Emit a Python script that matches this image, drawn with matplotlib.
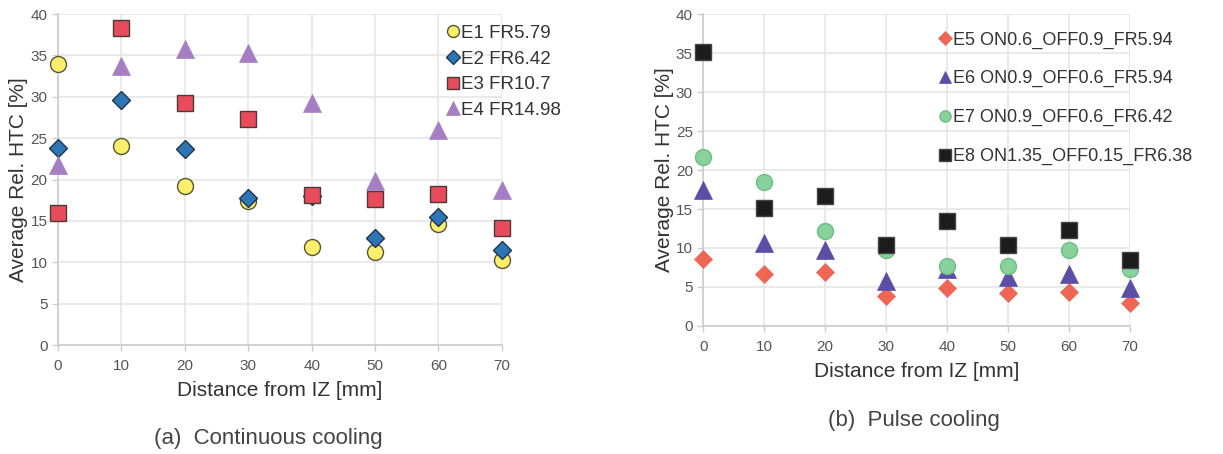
import matplotlib.pyplot as plt

plt.rcParams['font.family'] = ['Liberation Sans', 'DejaVu Sans']

distance = [0, 10, 20, 30, 40, 50, 60, 70]

# (a) continuous cooling
e1 = [34.0, 24.1, 19.2, 17.4, 11.8, 11.2, 14.6, 10.3]
e2 = [23.8, 29.6, 23.7, 17.8, 18.0, 12.9, 15.5, 11.5]
e3 = [16.0, 38.3, 29.3, 27.3, 18.1, 17.6, 18.2, 14.1]
e4 = [21.7, 33.7, 35.8, 35.3, 29.3, 19.8, 26.0, 18.7]
labels_a = ['E1 FR5.79', 'E2 FR6.42', 'E3 FR10.7', 'E4 FR14.98']

# (b) pulse cooling
e5 = [8.6, 6.7, 6.9, 3.8, 4.9, 4.2, 4.3, 2.9]
e6 = [17.5, 10.6, 9.8, 5.8, 7.3, 6.3, 6.7, 4.9]
e7 = [21.7, 18.4, 12.2, 9.8, 7.7, 7.7, 9.8, 7.3]
e8 = [35.2, 15.1, 16.7, 10.4, 13.5, 10.4, 12.3, 8.4]
labels_b = ['E5 ON0.6_OFF0.9_FR5.94', 'E6 ON0.9_OFF0.6_FR5.94',
            'E7 ON0.9_OFF0.6_FR6.42', 'E8 ON1.35_OFF0.15_FR6.38']

txt = '#333333'
tick_c = '#555555'
grid_c = '#e6e6e6'

fig = plt.figure(figsize=(12.23, 4.54), dpi=100)
ax1 = fig.add_axes([0.0474, 0.240, 0.363, 0.729])
ax2 = fig.add_axes([0.575, 0.282, 0.349, 0.687])


def style(ax, ypad):
    ax.set_xlim(0, 70)
    ax.set_ylim(0, 40)
    ax.set_xticks(range(0, 71, 10))
    ax.set_yticks(range(0, 41, 5))
    ax.grid(True, color=grid_c, lw=1.2)
    ax.set_axisbelow(True)
    for s in ['top', 'right']:
        ax.spines[s].set_visible(False)
    for s in ['left', 'bottom']:
        ax.spines[s].set_color('#cccccc')
        ax.spines[s].set_linewidth(1.2)
    ax.tick_params(colors='#cccccc', labelcolor=tick_c, labelsize=11, length=4, width=1)
    ax.tick_params(axis='x', pad=6)
    ax.set_xlabel('Distance from IZ [mm]', fontsize=15, color=txt, labelpad=6)
    ax.set_ylabel('Average Rel. HTC [%]', fontsize=15, color=txt, labelpad=ypad)


style(ax1, 2)
style(ax2, 1)

kw = dict(ls='none', clip_on=False, zorder=3)
ax1.plot(distance, e1, 'o', ms=11.5, mfc='#fbef6c', mec='#555533', mew=1, label=labels_a[0], **kw)
ax1.plot(distance, e2, 'D', ms=9.5, mfc='#2e75b6', mec='#1f3550', mew=1, label=labels_a[1], **kw)
ax1.plot(distance, e3, 's', ms=11.5, mfc='#e84b5a', mec='#4a3a3a', mew=1, label=labels_a[2], **kw)
ax1.plot(distance, e4, '^', ms=13, mfc='#a67fc2', mec='#a67fc2', mew=0.5, label=labels_a[3], **kw)

ax2.plot(distance, e5, 'D', ms=9.5, mfc='#ef6654', mec='#ef6654', mew=0.5, label=labels_b[0], **kw)
ax2.plot(distance, e6, '^', ms=13, mfc='#5b4ea6', mec='#5b4ea6', mew=0.5, label=labels_b[1], **kw)
ax2.plot(distance, e7, 'o', ms=11.5, mfc='#88d19b', mec='#6cbf84', mew=1, label=labels_b[2], **kw)
ax2.plot(distance, e8, 's', ms=11.5, mfc='#1c1c1c', mec='#444444', mew=1, label=labels_b[3], **kw)

leg1 = ax1.legend(loc='upper left', bbox_to_anchor=(0.86, 0.99), frameon=False,
                  fontsize=13.5, markerscale=0.75, handlelength=0.6, handletextpad=0.15,
                  labelspacing=0.45, borderaxespad=0)
for t in leg1.get_texts():
    t.set_color(txt)

leg2 = ax2.legend(loc='upper left', bbox_to_anchor=(0.525, 0.985), frameon=False,
                  fontsize=13, markerscale=0.7, handlelength=0.6, handletextpad=0.15,
                  labelspacing=1.2, borderaxespad=0.3)
for t in leg2.get_texts():
    t.set_color(txt)

fig.text(0.219, 0.035, '(a)  Continuous cooling', fontsize=16, color='#444444', ha='center', va='center')
fig.text(0.747, 0.073, '(b)  Pulse cooling', fontsize=16, color='#444444', ha='center', va='center')

fig.savefig('out.png', dpi=100, facecolor='white')
